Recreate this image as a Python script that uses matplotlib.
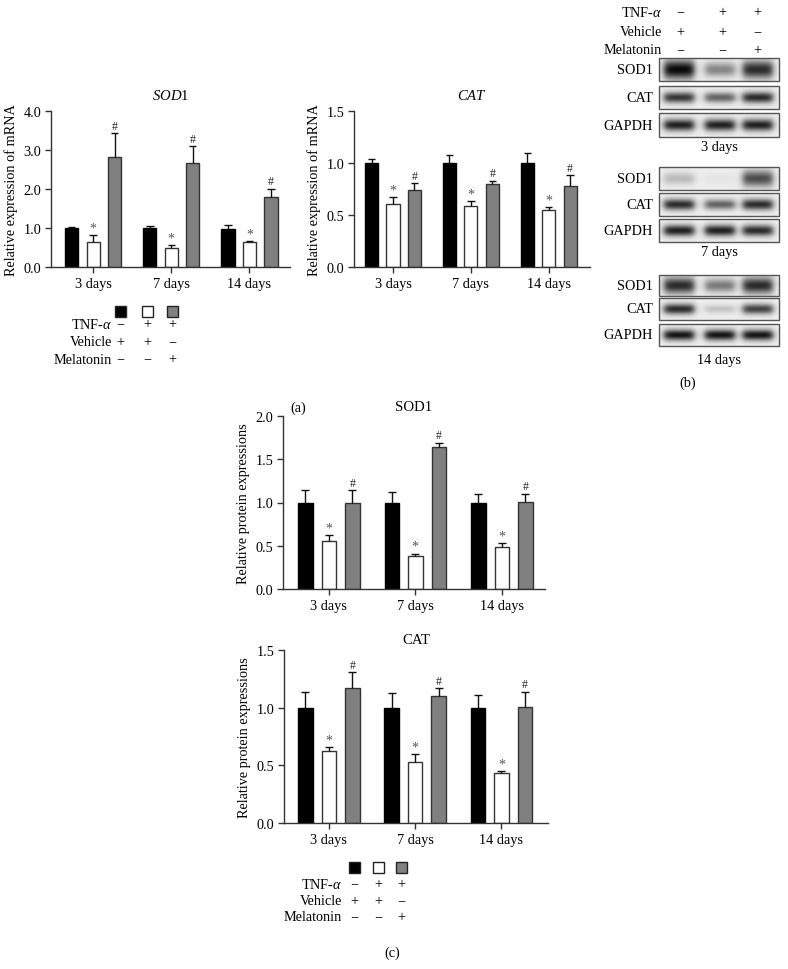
import numpy as np
import matplotlib
matplotlib.use("Agg")
import matplotlib.pyplot as plt
from matplotlib.patches import Rectangle
from matplotlib.ticker import FormatStrFormatter

plt.rcParams['font.family'] = ['Liberation Serif', 'DejaVu Serif']
plt.rcParams['mathtext.fontset'] = 'custom'
plt.rcParams['mathtext.rm'] = 'Liberation Serif'
plt.rcParams['mathtext.it'] = 'Liberation Serif:italic'

# ---------------- data ----------------
days = ["3 days", "7 days", "14 days"]
groups = ["Control", "TNF", "Melatonin"]

sod1_mrna = [[1.00, 1.00, 0.98], [0.64, 0.48, 0.64], [2.81, 2.66, 1.80]]
sod1_mrna_err = [[0.03, 0.05, 0.10], [0.19, 0.09, 0.035], [0.63, 0.43, 0.21]]
cat_mrna = [[1.00, 1.00, 1.00], [0.61, 0.59, 0.545], [0.74, 0.80, 0.78]]
cat_mrna_err = [[0.04, 0.08, 0.10], [0.06, 0.04, 0.035], [0.07, 0.03, 0.10]]
sod1_prot = [[1.00, 1.00, 1.00], [0.55, 0.38, 0.48], [1.00, 1.64, 1.01]]
sod1_prot_err = [[0.14, 0.12, 0.10], [0.07, 0.03, 0.05], [0.14, 0.05, 0.09]]
cat_prot = [[1.00, 1.00, 1.00], [0.62, 0.53, 0.43], [1.17, 1.10, 1.01]]
cat_prot_err = [[0.14, 0.13, 0.11], [0.04, 0.07, 0.02], [0.14, 0.07, 0.13]]

legend_rows = ["TNF-$\\alpha$", "Vehicle", "Melatonin"]
legend_signs = [["\u2212", "+", "+"], ["+", "+", "\u2212"], ["\u2212", "\u2212", "+"]]

blot_days = ["3 days", "7 days", "14 days"]
blot_proteins = [["SOD1", "CAT", "GAPDH"], ["SOD1", "CAT", "GAPDH"], ["SOD1", "CAT", "GAPDH"]]
blot_intensity = [
    [[1.00, 0.45, 0.85], [0.80, 0.60, 0.85], [0.90, 0.90, 0.90]],
    [[0.22, 0.04, 0.70], [0.85, 0.60, 0.85], [0.90, 0.90, 0.85]],
    [[0.85, 0.50, 0.85], [0.85, 0.18, 0.75], [0.95, 0.95, 0.95]],
]

# ---------------- figure ----------------
W, H = 788, 970
fig = plt.figure(figsize=(W / 100, H / 100), dpi=100)
FS = 10.3


def ax_px(x0, y0, x1, y1):
    return fig.add_axes([x0 / W, 1 - y1 / H, (x1 - x0) / W, (y1 - y0) / H])


fills = ["#000000", "#ffffff", "#808080"]
edges = ["#000000", "#333333", "#333333"]


def bar_panel(ax, vals, errs, ymax, ystep, xlim, title, ylabel, title_pad,
              width=0.17, step=0.275):
    x = np.arange(len(days))
    for g in range(3):
        xs = x + (g - 1) * step
        v = np.array(vals[g])
        e = np.array(errs[g])
        ax.bar(xs, v, width=width, color=fills[g], edgecolor=edges[g], linewidth=1.0, zorder=2)
        ax.vlines(xs, v, v + e, color="#111111", linewidth=1.0, zorder=3)
        ax.hlines(v + e, xs - width * 0.28, xs + width * 0.28, color="#111111", linewidth=1.0, zorder=3)
        if g == 1:
            for xi, top in zip(xs, v + e):
                ax.text(xi, top + ymax * 0.003, "*", ha="center", va="bottom", fontsize=10, color="#555555")
        if g == 2:
            for xi, top in zip(xs, v + e):
                ax.text(xi, top + ymax * 0.008, "#", ha="center", va="bottom", fontsize=8.5, color="#222222")
    ax.set_xlim(*xlim)
    ax.set_ylim(0, ymax)
    ax.set_yticks(np.arange(0, ymax + 1e-9, ystep))
    ax.yaxis.set_major_formatter(FormatStrFormatter('%.1f'))
    ax.set_xticks(x)
    ax.set_xticklabels(days)
    for s in ["top", "right"]:
        ax.spines[s].set_visible(False)
    for s in ["left", "bottom"]:
        ax.spines[s].set_color("#333333")
        ax.spines[s].set_linewidth(1.0)
    ax.tick_params(axis="both", direction="out", length=4, width=1.0, color="#333333",
                   labelsize=FS, pad=3)
    ax.set_ylabel(ylabel, fontsize=FS, labelpad=4)
    ax.set_title(title, fontsize=FS + 0.3, pad=title_pad)


# panel (a)
ax1 = ax_px(51, 112, 290, 268)
bar_panel(ax1, sod1_mrna, sod1_mrna_err, 4.0, 1.0, (-0.54, 2.52), r"$\it{SOD}$1",
          "Relative expression of mRNA", 9)
ax2 = ax_px(354, 112, 590, 268)
bar_panel(ax2, cat_mrna, cat_mrna_err, 1.5, 0.5, (-0.50, 2.53), r"$\it{CAT}$",
          "Relative expression of mRNA", 9)

# panel (c)
ax3 = ax_px(283, 417, 545, 590)
bar_panel(ax3, sod1_prot, sod1_prot_err, 2.0, 0.5, (-0.53, 2.50), "SOD1",
          "Relative protein expressions", 4, width=0.168, step=0.272)
ax4 = ax_px(284, 651, 548, 824)
bar_panel(ax4, cat_prot, cat_prot_err, 1.5, 0.5, (-0.52, 2.54), "CAT",
          "Relative protein expressions", 5, width=0.168, step=0.272)


# legends
def legend_table(xcols, ysq, yrows, xtext):
    for g, xc in enumerate(xcols):
        fig.patches.append(Rectangle(((xc - 5.5) / W, 1 - (ysq + 5.5) / H), 11 / W, 11 / H,
                                     transform=fig.transFigure, facecolor=fills[g],
                                     edgecolor="#222222", linewidth=1.0))
    for r, (lab, yr) in enumerate(zip(legend_rows, yrows)):
        fig.text(xtext / W, 1 - yr / H, lab, ha="right", va="center", fontsize=FS)
        for g, xc in enumerate(xcols):
            fig.text(xc / W, 1 - yr / H, legend_signs[r][g], ha="center", va="center", fontsize=FS)


legend_table([120, 147, 172], 312, [325, 343, 360], 112)
legend_table([354, 378, 401], 868, [885, 902, 918], 342)

fig.text(298 / W, 1 - 408 / H, "(a)", ha="center", va="center", fontsize=FS)
fig.text(688 / W, 1 - 383 / H, "(b)", ha="center", va="center", fontsize=FS)
fig.text(392 / W, 1 - 953 / H, "(c)", ha="center", va="center", fontsize=FS)

# panel (b): western blots
axb = ax_px(590, 0, 788, 400)
axb.set_xlim(590, 788)
axb.set_ylim(400, 0)
axb.axis("off")

hdr_x = [680, 722, 757]
hdr_rows = [13, 33, 51]
for r, (lab, yr) in enumerate(zip(legend_rows, hdr_rows)):
    axb.text(662, yr, lab, ha="right", va="center", fontsize=FS)
    for g, xc in enumerate(hdr_x):
        axb.text(xc, yr, legend_signs[r][g], ha="center", va="center", fontsize=FS)

box_x0, box_x1 = 659, 779
lane_x = [679, 720, 758]
boxes = [
    [(59, 82), (87, 110), (114, 138)],
    [(168, 191), (194, 217), (220, 243)],
    [(276, 297), (299, 321), (325, 347)],
]
day_label_y = [148, 253, 361]
for d in range(3):
    for p in range(3):
        y0, y1 = boxes[d][p]
        h = y1 - y0
        nx, ny = 240, 48
        xx = np.linspace(box_x0, box_x1, nx)
        yy = np.linspace(0, 1, ny)
        X, Y = np.meshgrid(xx, yy)
        img = np.full_like(X, 0.93)
        for li, lx in enumerate(lane_x):
            a = blot_intensity[d][p][li]
            prof_x = 1 / (1 + np.exp((np.abs(X - lx) - 15) / 2.0))
            thick = 0.16 + 0.14 * a if p == 0 else 0.13 + 0.05 * a
            prof_y = np.exp(-((Y - 0.5) ** 2) / (2 * thick ** 2))
            img -= 0.9 * a * prof_x * prof_y
        img = np.clip(img, 0.02, 1)
        axb.imshow(img, cmap="gray", vmin=0, vmax=1, extent=(box_x0, box_x1, y1, y0),
                   aspect="auto", interpolation="bilinear", zorder=1)
        axb.add_patch(Rectangle((box_x0, y0), box_x1 - box_x0, h, fill=False,
                                edgecolor="#555555", linewidth=1.0, zorder=2))
        axb.text(653, (y0 + y1) / 2, blot_proteins[d][p], ha="right", va="center", fontsize=FS)
    axb.text((box_x0 + box_x1) / 2, day_label_y[d], blot_days[d], ha="center", va="center",
             fontsize=FS)
axb.set_xlim(590, 788)
axb.set_ylim(400, 0)

fig.savefig("out.png", dpi=100)
